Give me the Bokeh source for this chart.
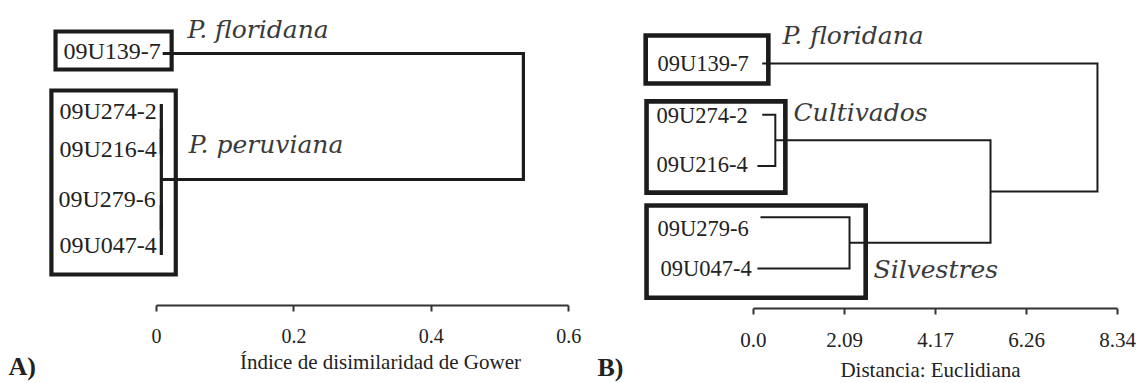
from bokeh.plotting import figure
from bokeh.models import Range1d, FixedTicker, Label, ColumnDataSource
from bokeh.layouts import row
from bokeh.embed import file_html
from bokeh.resources import INLINE
from bokeh.core.properties import value

# ---------------- data ----------------
leaves = ["09U139-7", "09U274-2", "09U216-4", "09U279-6", "09U047-4"]

# Panel A: Gower dissimilarity
leaf_start_a = [0.009, 0.007, 0.007, 0.007, 0.007]
merges_a = [(1, 2, 0.007), (3, 4, 0.007), (5, 6, 0.007), (0, 7, 0.534)]
ticks_a = [0.0, 0.2, 0.4, 0.6]
tick_labels_a = ["0", "0.2", "0.4", "0.6"]
groups_a = ["P. floridana", "P. peruviana"]
group_members_a = [[0], [1, 2, 3, 4]]
title_a = "Índice de disimilaridad de Gower"

# Panel B: Euclidean distance
leaf_start_b = [0.2, 0.2, 0.09, 0.16, 0.09]
merges_b = [(1, 2, 0.50), (3, 4, 2.20), (5, 6, 5.43), (0, 7, 7.88)]
ticks_b = [0.0, 2.085, 4.17, 6.255, 8.34]
tick_labels_b = ["0.0", "2.09", "4.17", "6.26", "8.34"]
groups_b = ["P. floridana", "Cultivados", "Silvestres"]
group_members_b = [[0], [1, 2], [3, 4]]
title_b = "Distancia: Euclidiana"

SERIF = "Liberation Serif"
ITALIC = "DejaVu Serif"
INK = "#1c1c1c"
H = 383


def bracket_paths(leaf_start, merges):
    xs = list(leaf_start)
    ys = [float(i) for i in range(len(leaf_start))]
    px, py = [], []
    for a, b, h in merges:
        px.append([xs[a], h, h, xs[b]])
        py.append([ys[a], ys[a], ys[b], ys[b]])
        xs.append(h)
        ys.append((ys[a] + ys[b]) / 2.0)
    return px, py


def make_panel(width, xr, yr, axis_at, leaf_start, merges, ticks, tick_labels,
               line_w, box_w, boxes, label_x, label_dx, label_dy, label_size,
               groups, group_pos, tick_size, standoff):
    p = figure(width=width, height=H, x_range=Range1d(*xr), y_range=Range1d(*yr),
               output_backend="svg", toolbar_location=None, tools="",
               y_axis_location=None, min_border_left=0, min_border_right=0,
               min_border_top=0, min_border_bottom=0)
    p.grid.visible = False
    p.outline_line_color = None

    px, py = bracket_paths(leaf_start, merges)
    p.multi_line(px, py, line_color=INK, line_width=line_w, line_join="miter")

    # group boxes around member leaves
    left, right, top, bottom = [], [], [], []
    for members, (x0, x1, pad_t, pad_b) in zip(boxes[0], boxes[1]):
        left.append(x0)
        right.append(x1)
        top.append(min(members) - pad_t)
        bottom.append(max(members) + pad_b)
    p.quad(left=left, right=right, top=top, bottom=bottom, fill_color=None,
           line_color=INK, line_width=box_w, line_join="miter")

    src = ColumnDataSource(dict(x=[label_x] * len(leaves), y=list(range(len(leaves))),
                                t=leaves, dx=label_dx, dy=label_dy))
    p.text(x="x", y="y", text="t", x_offset="dx", y_offset="dy", source=src,
           text_font=value(SERIF), text_font_size=value(label_size),
           text_baseline="middle", text_align="left", text_color="#222222")

    gsrc = ColumnDataSource(dict(x=[g[0] for g in group_pos], y=[g[1] for g in group_pos],
                                 t=groups))
    p.text(x="x", y="y", text="t", source=gsrc, text_font=value(ITALIC),
           text_font_size=value("25px"), text_font_style="italic",
           text_baseline="middle", text_align="left", text_color="#3a3a3a")

    ax = p.xaxis[0]
    ax.fixed_location = axis_at
    ax.ticker = FixedTicker(ticks=ticks)
    ax.major_label_overrides = {float(t): l for t, l in zip(ticks, tick_labels)}
    ax.bounds = (ticks[0], ticks[-1])
    ax.axis_line_width = 2
    ax.axis_line_color = "#333333"
    ax.major_tick_line_width = 2
    ax.major_tick_line_color = "#333333"
    ax.major_tick_out = 6
    ax.major_tick_in = 0
    ax.minor_tick_line_color = None
    ax.major_label_text_font = SERIF
    ax.major_label_text_font_size = tick_size
    ax.major_label_text_color = "#222222"
    ax.major_label_standoff = standoff
    return p


# ---------------- panel A ----------------
pa = make_panel(
    width=590, xr=(-0.2271, 0.6317), yr=(6.548, -1.052), axis_at=5.0,
    leaf_start=leaf_start_a, merges=merges_a, ticks=ticks_a, tick_labels=tick_labels_a,
    line_w=3.2, box_w=4.2,
    boxes=(group_members_a, [(-0.147, 0.022, 0.437, 0.317), (-0.153, 0.028, 0.266, 0.385)]),
    label_x=-0.1412, label_dx=[4, 0, 0, -1, 0], label_dy=[-3, 7, -5, -6, -10],
    label_size="24px", groups=groups_a, group_pos=[(0.045, -0.476), (0.047, 1.806)],
    tick_size="20px", standoff=18)
pa.add_layout(Label(x=0.326, y=6.131, text=title_a, text_font=SERIF, text_font_size="21px",
                    text_align="center", text_baseline="middle", text_color="#222222"))
pa.add_layout(Label(x=-0.2154, y=6.21, text="A)", text_font=SERIF, text_font_size="26px",
                    text_font_style="bold", text_align="left", text_baseline="middle",
                    text_color="#222222"))

# ---------------- panel B ----------------
pb = make_panel(
    width=550, xr=(-3.734, 8.866), yr=(6.244, -1.229), axis_at=4.78,
    leaf_start=leaf_start_b, merges=merges_b, ticks=ticks_b, tick_labels=tick_labels_b,
    line_w=2.0, box_w=4.6,
    boxes=(group_members_b, [(-2.47, 0.34, 0.546, 0.39), (-2.45, 0.73, 0.26, 0.52),
                             (-2.45, 2.57, 0.23, 0.57)]),
    label_x=-2.222, label_dx=[1, 0, 0, 1, 4], label_dy=[0, 1, -1, 11, 0],
    label_size="22.5px", groups=groups_b,
    group_pos=[(0.664, -0.537), (0.916, 0.966), (2.75, 4.02)],
    tick_size="21px", standoff=19)
pb.add_layout(Label(x=4.055, y=5.99, text=title_b, text_font=SERIF, text_font_size="21px",
                    text_align="center", text_baseline="middle", text_color="#222222"))
pb.add_layout(Label(x=-3.574, y=5.93, text="B)", text_font=SERIF, text_font_size="26px",
                    text_font_style="bold", text_align="left", text_baseline="middle",
                    text_color="#222222"))

layout = row(pa, pb)
open("out.html", "w").write(file_html(layout, INLINE))
